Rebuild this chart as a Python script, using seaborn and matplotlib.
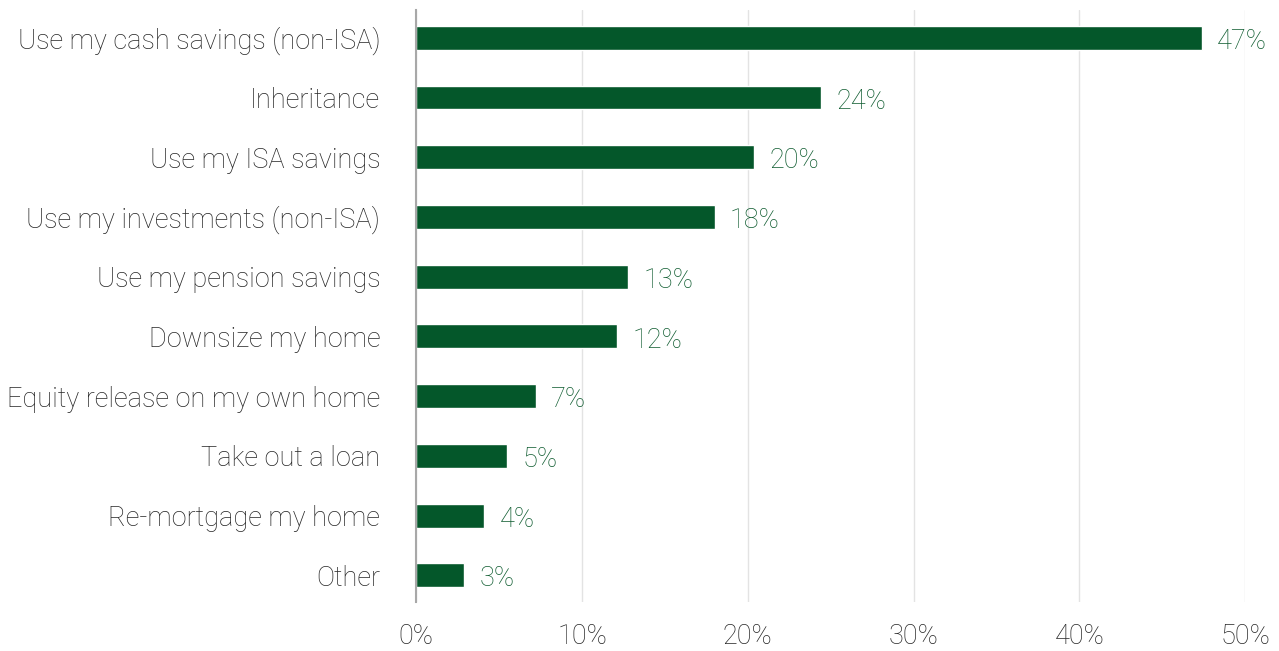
import pandas as pd
import matplotlib.pyplot as plt
import seaborn as sns

categorias = ['Use my cash savings (non-ISA)', 'Inheritance', 'Use my ISA savings',
              'Use my investments (non-ISA)', 'Use my pension savings', 'Downsize my home',
              'Equity release on my own home', 'Take out a loan', 'Re-mortgage my home', 'Other']
valores = [47.4, 24.4, 20.4, 18.0, 12.8, 12.1, 7.2, 5.5, 4.1, 2.9]
rotulos = ['47%', '24%', '20%', '18%', '13%', '12%', '7%', '5%', '4%', '3%']
ticks_x = [0, 10, 20, 30, 40, 50]

df = pd.DataFrame({'Categoria': categorias, 'Valor': valores})

sns.set_style('white')
plt.rcParams['font.family'] = ['Roboto', 'DejaVu Sans']
plt.rcParams['font.weight'] = 'light'

fig = plt.figure(figsize=(12.79, 6.51), dpi=100)
ax = fig.add_axes([0.3255, 0.075, 0.648, 0.91])

sns.barplot(data=df, y='Categoria', x='Valor', color='#04572a', saturation=1,
            width=0.4, ax=ax, zorder=3)

# rótulos de valor
for i, (v, r) in enumerate(zip(valores, rotulos)):
    ax.annotate(r, xy=(v, i + 0.06), xytext=(11, 0), textcoords='offset points',
                va='center', ha='left', fontsize=19.5, color='#0f5c30', fontweight='light')

ax.set_xlim(0, 50)
ax.set_ylim(9.45, -0.47)
ax.set_xticks(ticks_x)
ax.set_xticklabels([f'{t}%' for t in ticks_x])
ax.set_xlabel('')
ax.set_ylabel('')
ax.grid(axis='x', color='#e3e3e3', linewidth=1, zorder=0)
ax.grid(axis='y', visible=False)
for s in ['top', 'right', 'bottom']:
    ax.spines[s].set_visible(False)
ax.spines['left'].set_color('#a8a8a8')
ax.spines['left'].set_linewidth(1.5)
ax.spines['left'].set_zorder(4)
ax.tick_params(axis='y', length=0, pad=26, labelsize=19.5, labelcolor='#262626')
ax.tick_params(axis='x', length=0, pad=15, labelsize=19.5, labelcolor='#262626')

plt.savefig('out.png', dpi=100)
